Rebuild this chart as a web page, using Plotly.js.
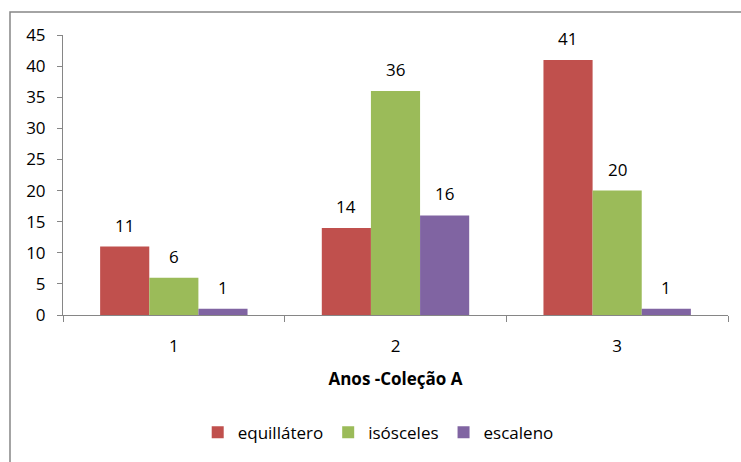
<!DOCTYPE html>
<html>
<head>
<meta charset="utf-8">
<script src="https://cdn.plot.ly/plotly-3.0.1.min.js"></script>
<style>
html,body{margin:0;padding:0;background:#fff;}
#chart{width:741px;height:462px;}
</style>
</head>
<body>
<div id="chart"></div>
<script>
const categories = ["1", "2", "3"];
const seriesNames = ["equillátero", "isósceles", "escaleno"];
const equilatero = [11, 14, 41];
const isosceles = [6, 36, 20];
const escaleno = [1, 16, 1];
const yTicks = [0, 5, 10, 15, 20, 25, 30, 35, 40, 45];
const xTitle = "Anos -Coleção A";

const colors = ["#C0504D", "#9BBB59", "#8064A2"];
const allValues = [equilatero, isosceles, escaleno];
const FONT = "'Open Sans', sans-serif";

const traces = allValues.map((vals, i) => ({
  type: "bar",
  name: seriesNames[i],
  x: categories,
  y: vals,
  marker: {color: colors[i]},
  cliponaxis: false,
  hoverinfo: "none"
}));

const annotations = [];
allValues.forEach((vals, i) => {
  vals.forEach((v, j) => {
    annotations.push({
      x: j, y: v, xref: "x", yref: "y",
      text: String(v), showarrow: false,
      xanchor: "center", yanchor: "bottom", yshift: 8,
      xshift: (i - 1) * 49.3,
      font: {family: FONT, size: 17, color: "#000"}
    });
  });
});

const layout = {
  width: 741, height: 462,
  margin: {l: 63, r: 13, t: 35, b: 147},
  paper_bgcolor: "#fff", plot_bgcolor: "#fff",
  barmode: "group",
  bargap: 0.335,
  bargroupgap: 0,
  showlegend: true,
  legend: {
    orientation: "h", x: 0.474, xanchor: "center", y: -0.42, yanchor: "middle",
    font: {family: FONT, size: 17, color: "#000"},
    itemwidth: 30, traceorder: "normal"
  },
  xaxis: {
    type: "category",
    tickson: "boundaries",
    ticks: "outside", ticklen: 6, tickcolor: "#868686", tickwidth: 1,
    showline: true, linecolor: "#868686", linewidth: 1,
    showgrid: false, zeroline: false,
    ticklabelstandoff: 16,
    tickfont: {family: FONT, size: 17, color: "#000"},
    title: {text: xTitle, standoff: 16, font: {family: FONT, size: 17, color: "#000", weight: "bold"}}
  },
  yaxis: {
    range: [0, 45],
    tickvals: yTicks,
    ticks: "outside", ticklen: 5, tickcolor: "#868686", tickwidth: 1,
    showline: true, linecolor: "#868686", linewidth: 1,
    showgrid: false, zeroline: false,
    ticklabelstandoff: 8,
    tickfont: {family: FONT, size: 17, color: "#000"}
  },
  annotations: annotations,
  shapes: [{
    type: "rect", xref: "paper", yref: "paper",
    x0: -0.0797, x1: 1.2, y0: -0.7, y1: 1.082,
    line: {color: "#868686", width: 1.5}, fillcolor: "rgba(0,0,0,0)", layer: "below"
  }]
};

Plotly.newPlot("chart", traces, layout, {displayModeBar: false, staticPlot: true});
</script>
</body>
</html>
